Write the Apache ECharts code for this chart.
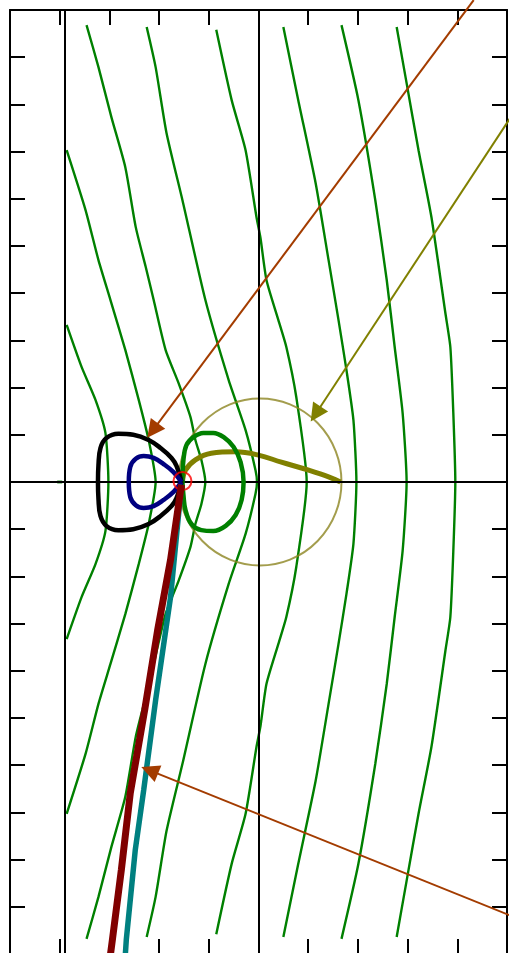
<!DOCTYPE html>
<html>
<head>
<meta charset="utf-8">
<style>
html,body{margin:0;padding:0;background:#ffffff;}
#chart{width:509px;height:953px;}
</style>
<script src="https://cdn.jsdelivr.net/npm/echarts@6/dist/echarts.min.js"></script>
</head>
<body>
<div id="chart"></div>
<script>
// Axis ranges and tick step
const xRange = [-5, 5];
const yRange = [-10, 10];
const tickStep = 1;

// Reference lines (vertical at x, horizontal at y)
const verticalLines = [0, -3.89];
const horizontalLines = [0];

// Contour family (thin green curves), each listed from top to bottom
const contourL0 = [[-3.86,3.33],[-3.56,2.44],[-3.28,1.74],[-3.08,1.04],[-3.02,0],[-3.08,-1.04],[-3.28,-1.74],[-3.56,-2.44],[-3.86,-3.33]];
const contourL1 = [[-3.86,7.03],[-3.48,5.76],[-3.22,4.70],[-2.98,3.86],[-2.68,2.80],[-2.41,1.74],[-2.21,0.89],[-2.07,0],[-2.21,-0.89],[-2.41,-1.74],[-2.68,-2.80],[-2.98,-3.86],[-3.22,-4.70],[-3.48,-5.76],[-3.86,-7.03]];
const contourL2 = [[-3.46,9.68],[-3.22,8.79],[-2.96,7.73],[-2.68,6.67],[-2.47,5.40],[-2.27,4.56],[-2.11,3.86],[-1.87,2.80],[-1.61,2.10],[-1.37,1.38],[-1.27,0.89],[-1.15,0.47],[-1.07,0],[-1.15,-0.47],[-1.27,-0.89],[-1.37,-1.38],[-1.61,-2.10],[-1.87,-2.80],[-2.11,-3.86],[-2.27,-4.56],[-2.47,-5.40],[-2.68,-6.67],[-2.96,-7.73],[-3.22,-8.79],[-3.46,-9.68]];
const contourL3 = [[-2.25,9.64],[-2.07,8.79],[-1.85,7.39],[-1.53,5.97],[-1.07,3.86],[-0.60,2.16],[-0.26,1.10],[-0.06,0.25],[-0.03,0],[-0.06,-0.25],[-0.26,-1.10],[-0.60,-2.16],[-1.07,-3.86],[-1.53,-5.97],[-1.85,-7.39],[-2.07,-8.79],[-2.25,-9.64]];
const contourA = [[-0.85,9.58],[-0.54,8.09],[-0.26,7.03],[-0.04,5.61],[0.04,5.17],[0.16,4.28],[0.40,3.43],[0.56,2.86],[0.76,1.80],[0.97,0],[0.76,-1.80],[0.56,-2.86],[0.40,-3.43],[0.16,-4.28],[0.04,-5.17],[-0.04,-5.61],[-0.26,-7.03],[-0.54,-8.09],[-0.85,-9.58]];
const contourB = [[0.50,9.64],[0.80,8.09],[1.15,6.33],[1.41,4.70],[1.61,3.43],[1.77,2.37],[1.91,1.31],[1.97,0],[1.91,-1.31],[1.77,-2.37],[1.61,-3.43],[1.41,-4.70],[1.15,-6.33],[0.80,-8.09],[0.50,-9.64]];
const contourC = [[1.67,9.68],[2.01,8.09],[2.35,5.97],[2.58,4.28],[2.74,2.86],[2.90,1.46],[2.98,0],[2.90,-1.46],[2.74,-2.86],[2.58,-4.28],[2.35,-5.97],[2.01,-8.09],[1.67,-9.68]];
const contourD = [[2.78,9.64],[2.98,8.45],[3.22,7.03],[3.48,5.61],[3.76,3.58],[3.86,2.86],[3.92,1.46],[3.96,0],[3.92,-1.46],[3.86,-2.86],[3.76,-3.58],[3.48,-5.61],[3.22,-7.03],[2.98,-8.45],[2.78,-9.64]];
const contourDot = [[-4.0,0]];

// Closed loops meeting at the common point
const blackLoop = [[-1.55,0],[-1.65,0.34],[-1.75,0.51],[-1.97,0.72],[-2.21,0.89],[-2.52,1.0],[-2.82,1.02],[-3.06,0.93],[-3.18,0.72],[-3.22,0.36],[-3.23,0],[-3.22,-0.36],[-3.18,-0.72],[-3.06,-0.93],[-2.82,-1.02],[-2.52,-1.0],[-2.21,-0.89],[-1.97,-0.72],[-1.75,-0.51],[-1.65,-0.34],[-1.55,0]];
const blueLoop = [[-1.55,0],[-1.71,0.21],[-1.91,0.38],[-2.11,0.51],[-2.31,0.55],[-2.47,0.49],[-2.58,0.32],[-2.61,0],[-2.58,-0.32],[-2.47,-0.49],[-2.31,-0.55],[-2.11,-0.51],[-1.91,-0.38],[-1.71,-0.21],[-1.55,0]];
const greenLoop = [[-1.53,0],[-1.51,0.47],[-1.45,0.78],[-1.31,0.95],[-1.11,1.04],[-0.91,1.04],[-0.70,0.95],[-0.50,0.74],[-0.36,0.42],[-0.30,0],[-0.34,-0.38],[-0.46,-0.70],[-0.66,-0.93],[-0.91,-1.04],[-1.15,-1.02],[-1.35,-0.89],[-1.47,-0.59],[-1.51,-0.28],[-1.53,0]];
const oliveArc = [[-1.53,0],[-1.47,0.25],[-1.27,0.47],[-0.95,0.61],[-0.46,0.64],[0,0.57],[0.46,0.42],[1.01,0.25],[1.41,0.11],[1.65,0]];

// Branches running down from the common point
const tealBranch = [[-1.55,-0.06],[-1.77,-2.44],[-2.07,-4.62],[-2.31,-6.53],[-2.48,-7.80],[-2.66,-9.70],[-2.68,-10.02]];
const maroonBranch = [[-1.55,-0.06],[-1.77,-1.65],[-2.03,-3.14],[-2.29,-4.83],[-2.58,-6.59],[-2.76,-8.22],[-2.94,-9.70],[-2.98,-10.02]];

// Circles: centre points and the common point marker
const oliveCircleCentre = [[0.03,0]];
const commonPoint = [[-1.53,0.02]];

// Pointer arrows: [start, tip]
const brownArrows = [
  [[4.33,10.21],[-2.13,1.09]],
  [[5.1,-9.2],[-2.19,-6.11]]
];
const oliveArrows = [
  [[5.07,7.72],[1.15,1.44]]
];

const chart = echarts.init(document.getElementById('chart'), null, {renderer:'canvas'});

function frameAxis(pos, isX) {
  return {
    type:'value', position:pos, gridIndex:0,
    min: isX ? xRange[0] : yRange[0], max: isX ? xRange[1] : yRange[1], interval: tickStep,
    axisLine:{show:true, onZero:false, lineStyle:{color:'#000', width:2}},
    axisTick:{show:true, inside:true, length:15, lineStyle:{color:'#000', width:2}},
    axisLabel:{show:false}, splitLine:{show:false}
  };
}

function curve(data, color, width, z, smooth) {
  return {
    type:'line', data:data, symbol:'none', showSymbol:false, smooth: smooth,
    lineStyle:{color:color, width:width}, z:z, silent:true, animation:false
  };
}

const contours = [contourL0, contourL1, contourL2, contourL3, contourA, contourB, contourC, contourD];

const series = [];
series.push({
  type:'line', data:[], z:1, silent:true,
  markLine:{
    silent:true, symbol:'none', animation:false, label:{show:false},
    lineStyle:{color:'#000', width:2, type:'solid'},
    data: verticalLines.map(v => ({xAxis:v})).concat(horizontalLines.map(v => ({yAxis:v})))
  }
});
contours.forEach(c => series.push(curve(c, '#008000', 2.4, 2, 0.2)));
series.push({type:'scatter', data:contourDot, symbol:'rect', symbolSize:[5,3], itemStyle:{color:'#008000'}, z:2, silent:true});
series.push({type:'scatter', data:oliveCircleCentre, symbol:'circle', symbolSize:[163,167],
  itemStyle:{color:'rgba(0,0,0,0)', borderColor:'#8c8420', borderWidth:2}, z:3, silent:true});
series.push(curve(oliveArc, '#808000', 5, 4, 0.4));
series.push(curve(greenLoop, '#008000', 4.5, 5, 0.4));
series.push(curve(blackLoop, '#000000', 4.5, 5, 0.4));
series.push(curve(blueLoop, '#000080', 4.5, 6, 0.4));
series.push({type:'scatter', data:commonPoint, symbol:'circle', symbolSize:18,
  itemStyle:{color:'rgba(0,0,0,0)', borderColor:'#ff0000', borderWidth:2}, z:7, silent:true});
series.push(curve(tealBranch, '#008080', 5.5, 8, false));
series.push(curve(maroonBranch, '#800000', 7, 9, false));
series.push({
  type:'lines', coordinateSystem:'cartesian2d', clip:false, z:10, silent:true,
  symbol:['none','triangle'], symbolSize:18,
  lineStyle:{color:'#a33c00', width:2, opacity:1, curveness:0},
  data: brownArrows.map(a => ({coords:a}))
});
series.push({
  type:'lines', coordinateSystem:'cartesian2d', clip:false, z:10, silent:true,
  symbol:['none','triangle'], symbolSize:18,
  lineStyle:{color:'#808000', width:2, opacity:1, curveness:0},
  data: oliveArrows.map(a => ({coords:a}))
});

chart.setOption({
  animation:false,
  backgroundColor:'#ffffff',
  grid:{left:10, top:10, width:497, height:944, outerBoundsMode:'none', containLabel:false},
  xAxis:[frameAxis('bottom', true), frameAxis('top', true)],
  yAxis:[frameAxis('left', false), frameAxis('right', false)],
  series: series
});
</script>
</body>
</html>
